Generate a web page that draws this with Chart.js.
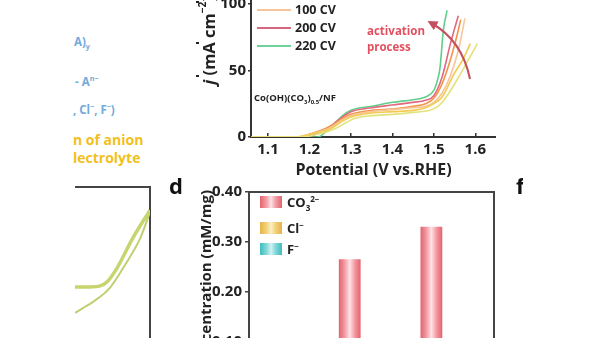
<!DOCTYPE html>
<html>
<head>
<meta charset="utf-8">
<script src="https://cdn.jsdelivr.net/npm/chart.js@4.4.1/dist/chart.umd.min.js"></script>
<style>
  html, body { margin: 0; padding: 0; background: #fff; }
  body { width: 600px; height: 338px; position: relative; overflow: hidden; font-family: "Open Sans", sans-serif; }
  .abs { position: absolute; white-space: nowrap; }
  canvas { position: absolute; }
  .blue { color: #72aadb; font-weight: 700; font-size: 11.5px; }
  .gold { color: #f2c01c; font-weight: 700; font-size: 14px; }
  .leg { font-weight: 700; font-size: 12.5px; color: #222; }
  .legline { position: absolute; height: 2px; width: 34px; }
  .swatch { position: absolute; width: 22px; height: 12px; }
  .vtitle { position: absolute; writing-mode: vertical-rl; transform: rotate(180deg); font-weight: 700; font-size: 15px; color: #222; white-space: nowrap; }
  .tick { position: absolute; width: 3px; height: 2px; background: #222; }
  sub, sup { font-size: 0.62em; }
</style>
</head>
<body>

<!-- scheme text on the left -->
<div class="abs blue" style="left:74px;top:34px;">A)<sub>y</sub></div>
<div class="abs blue" style="left:75px;top:73px;">- A<sup>n−</sup></div>
<div class="abs blue" style="left:73px;top:101px;">, Cl<sup>−</sup>, F<sup>−</sup>)</div>
<div class="abs gold" style="left:73px;top:130px;">n of anion</div>
<div class="abs gold" style="left:73px;top:148px;">lectrolyte</div>
<div class="tick" style="left:196px;top:1px;"></div>
<div class="tick" style="left:196px;top:42px;"></div>
<div class="tick" style="left:196px;top:75px;"></div>

<!-- LSV panel -->
<canvas id="lsv" width="306" height="214" style="left:190px;top:-34px;"></canvas>
<div class="vtitle" style="left:195px;bottom:253px;font-size:16.5px;"><i>j</i> (mA cm<sup>−2</sup>)</div>
<div class="legline" style="left:257px;top:9px;background:#f7c59a;"></div>
<div class="legline" style="left:257px;top:27px;background:#d9667f;"></div>
<div class="legline" style="left:257px;top:45px;background:#6fd29a;"></div>
<div class="abs leg" style="left:295px;top:1px;">100 CV</div>
<div class="abs leg" style="left:295px;top:19px;">200 CV</div>
<div class="abs leg" style="left:295px;top:37px;">220 CV</div>
<div class="abs" style="left:367px;top:23px;color:#e2505f;font-weight:700;font-size:11.5px;line-height:16px;">activation<br>process</div>
<svg class="abs" style="left:0;top:0;" width="600" height="338">
  <defs>
    <marker id="head" viewBox="0 0 10 10" refX="6" refY="5" markerWidth="5" markerHeight="5" orient="auto">
      <path d="M0 0 L10 5 L0 10 z" fill="#c4505f"/>
    </marker>
  </defs>
  <path d="M470 79 Q 462 40 431 23" fill="none" stroke="#c4505f" stroke-width="2" marker-end="url(#head)"/>
</svg>
<div class="abs" style="left:254px;top:91px;font-size:9.5px;font-weight:700;color:#222;">Co(OH)(CO<sub>3</sub>)<sub>0.5</sub>/NF</div>

<!-- CV panel, lower left -->
<div class="abs" style="left:75px;top:180px;width:80px;height:158px;overflow:hidden;">
  <canvas id="cv" width="227" height="200" style="left:-150px;top:0;"></canvas>
</div>

<!-- anion concentration panel -->
<div class="abs" style="left:169px;top:170px;font-size:22px;font-weight:700;color:#111;">d</div>
<div class="abs" style="left:0;top:0;width:523px;height:338px;overflow:hidden;">
  <div class="abs" style="left:516px;top:170px;font-size:22px;font-weight:700;color:#111;">f</div>
</div>
<canvas id="ions" width="296" height="241" style="left:200px;top:180px;"></canvas>
<div class="vtitle" style="left:195px;top:190px;">Concentration (mM/mg)</div>
<div class="swatch" style="left:260px;top:196px;background:linear-gradient(90deg,#e2646f,#f4a0a8 30%,#fde2e5 50%,#f4a0a8 70%,#e2646f);"></div>
<div class="swatch" style="left:260px;top:222px;background:linear-gradient(90deg,#e6b347,#f2d27c 30%,#fbefc4 50%,#f2d27c 70%,#e6b347);"></div>
<div class="swatch" style="left:260px;top:243px;background:linear-gradient(90deg,#3cbcbf,#86d8d9 30%,#d2f2f2 50%,#86d8d9 70%,#3cbcbf);"></div>
<div class="abs leg" style="left:287px;top:193px;font-size:13px;">CO<sub>3</sub><sup>2−</sup></div>
<div class="abs leg" style="left:287px;top:219px;font-size:13px;">Cl<sup>−</sup></div>
<div class="abs leg" style="left:287px;top:240px;font-size:13px;">F<sup>−</sup></div>

<script>
// LSV curves: potential (V vs. RHE) and current density (mA cm-2)
const ylgV = [1.06, 1.18, 1.22, 1.26, 1.29, 1.31, 1.35, 1.40, 1.45, 1.49, 1.51, 1.53, 1.56, 1.58, 1.605];
const ylgJ = [0, 0, 2, 6, 11, 14, 16, 17, 18.5, 20, 23, 30, 45, 56, 70];
const yelV = [1.06, 1.17, 1.20, 1.25, 1.28, 1.30, 1.35, 1.40, 1.45, 1.48, 1.50, 1.52, 1.55, 1.57, 1.588];
const yelJ = [0, 0, 2, 6, 12, 15, 18, 19, 20, 22, 25, 30, 48, 58, 70];
const peachV = [1.06, 1.17, 1.20, 1.25, 1.28, 1.30, 1.35, 1.40, 1.45, 1.48, 1.50, 1.52, 1.54, 1.56, 1.575];
const peachJ = [0, 0, 2, 7, 13, 16, 19, 20.5, 22, 23, 26, 33, 46, 66, 89];
const orangeV = [1.06, 1.17, 1.20, 1.25, 1.28, 1.30, 1.35, 1.40, 1.45, 1.48, 1.50, 1.52, 1.54, 1.555, 1.565];
const orangeJ = [0, 0, 2, 8, 14, 17, 20, 21, 23, 25, 29, 40, 58, 75, 88];
const pinkV = [1.06, 1.19, 1.22, 1.25, 1.28, 1.30, 1.35, 1.40, 1.45, 1.48, 1.50, 1.52, 1.54, 1.559];
const pinkJ = [0, 0, 3, 8, 15, 19, 22, 24, 26, 27.5, 31, 45, 70, 91];
const greenV = [1.06, 1.22, 1.24, 1.26, 1.28, 1.30, 1.35, 1.40, 1.45, 1.48, 1.50, 1.51, 1.515, 1.523, 1.532];
const greenJ = [0, 0, 4, 10, 16, 20, 23, 26, 28, 30, 35, 44, 52, 80, 95];
const potentialTicks = [1.1, 1.2, 1.3, 1.4, 1.5, 1.6];
const currentTicks = [0, 50, 100];

// CV loop fragment
const cvUpV = [1.400, 1.440, 1.467, 1.485, 1.512, 1.554, 1.600];
const cvUpJ = [19.3, 19.3, 19.5, 20.3, 23.2, 29.4, 35.2];
const cvDownV = [1.400, 1.421, 1.448, 1.493, 1.533, 1.574, 1.600];
const cvDownJ = [13.9, 14.9, 16.2, 19.1, 23.8, 29.4, 34.8];

// anion concentration in electrolyte (mM/mg)
const stageLabels = ['0 CV', '100 CV', '220 CV'];
const carbonate = [0.06, 0.265, 0.33];
const chloride = [0.03, 0.03, 0.04];
const fluoride = [0.02, 0.02, 0.03];
const concTicks = [0, 0.1, 0.2, 0.3, 0.4];

const FONT = '"Open Sans", sans-serif';
const AXIS = '#333';
const INK = '#222';

function pts(xs, ys) {
  return xs.map((x, i) => ({ x: x, y: ys[i] }));
}

function curve(label, xs, ys, color) {
  return {
    label: label,
    data: pts(xs, ys),
    borderColor: color,
    borderWidth: 1.6,
    pointRadius: 0,
    fill: false,
    cubicInterpolationMode: 'monotone'
  };
}

const tickFont = { family: FONT, size: 15, weight: 'bold' };

new Chart(document.getElementById('lsv'), {
  type: 'line',
  data: {
    datasets: [
      curve('1 CV', ylgV, ylgJ, '#e3e27c'),
      curve('50 CV', yelV, yelJ, '#f3cb52'),
      curve('100 CV', peachV, peachJ, '#f7c59a'),
      curve('150 CV', orangeV, orangeJ, '#f2954a'),
      curve('200 CV', pinkV, pinkJ, '#e0687f'),
      curve('220 CV', greenV, greenJ, '#5ecf8b')
    ]
  },
  options: {
    responsive: false,
    animation: false,
    layout: { padding: 0 },
    plugins: { legend: { display: false }, tooltip: { enabled: false } },
    scales: {
      x: {
        type: 'linear',
        min: 1.059,
        max: 1.65,
        afterBuildTicks: (a) => { a.ticks = potentialTicks.map(v => ({ value: v })); },
        afterFit: (a) => { a.height = 43; },
        grid: { drawOnChartArea: false, tickLength: -4, color: AXIS, lineWidth: 1.5 },
        border: { color: AXIS, width: 2 },
        ticks: { padding: 8, color: INK, font: tickFont, callback: (v) => v.toFixed(1) },
        title: {
          display: true,
          text: 'Potential (V vs.RHE)',
          color: INK,
          font: { family: FONT, size: 16, weight: 'bold' },
          padding: { top: 0, bottom: 0 }
        }
      },
      y: {
        min: 0,
        max: 120,
        afterBuildTicks: (a) => { a.ticks = currentTicks.map(v => ({ value: v })); },
        afterFit: (a) => { a.width = 61; },
        grid: { drawOnChartArea: false, tickLength: 3, color: AXIS, lineWidth: 1.5 },
        border: { color: AXIS, width: 2 },
        ticks: { padding: 2, color: INK, font: tickFont }
      }
    }
  }
});

// frame-only axes: no ticks, no labels, just the box edge
function edge(position, extra) {
  return Object.assign({
    position: position,
    display: true,
    grid: { display: false },
    ticks: { display: false },
    border: { color: '#444', width: 2 },
    afterFit: (a) => {
      if (a.isHorizontal()) a.height = 0; else a.width = 0;
    }
  }, extra);
}

new Chart(document.getElementById('cv'), {
  type: 'line',
  data: {
    datasets: [
      Object.assign(curve('anodic', cvUpV, cvUpJ, '#c8d56e'), { borderWidth: 3.5 }),
      Object.assign(curve('cathodic', cvDownV, cvDownJ, '#bfd074'), { borderWidth: 2 })
    ]
  },
  options: {
    responsive: false,
    animation: false,
    layout: { padding: { top: 7, right: 2, left: 0, bottom: 0 } },
    plugins: { legend: { display: false }, tooltip: { enabled: false } },
    scales: {
      x: edge('top', { type: 'linear', min: 1.0, max: 1.6 }),
      y: edge('right', { type: 'linear', min: 0, max: 40 })
    }
  }
});

// horizontal shading across each bar: dark edges, pale centre
function barShade(stops) {
  return (ctx) => {
    const chart = ctx.chart;
    const xs = chart.scales.x;
    if (!xs || !xs.width || ctx.type !== 'data') return stops[0];
    const slot = xs.width / stageLabels.length * 0.8 / 3;
    const cx = xs.getPixelForValue(ctx.dataIndex) + (ctx.datasetIndex - 1) * slot;
    const g = chart.ctx.createLinearGradient(cx - slot / 2, 0, cx + slot / 2, 0);
    stops.forEach((c, i) => g.addColorStop(i / (stops.length - 1), c));
    return g;
  };
}

new Chart(document.getElementById('ions'), {
  type: 'bar',
  data: {
    labels: stageLabels,
    datasets: [
      { label: 'CO3 2-', data: carbonate, backgroundColor: barShade(['#e2646f', '#f2959e', '#fde2e5', '#f2959e', '#e2646f']) },
      { label: 'Cl-', data: chloride, backgroundColor: barShade(['#e6b347', '#f2d27c', '#fbefc4', '#f2d27c', '#e6b347']) },
      { label: 'F-', data: fluoride, backgroundColor: barShade(['#3cbcbf', '#86d8d9', '#d2f2f2', '#86d8d9', '#3cbcbf']) }
    ]
  },
  options: {
    responsive: false,
    animation: false,
    layout: { padding: { top: 11, right: 2, left: 0, bottom: 0 } },
    datasets: { bar: { categoryPercentage: 0.8, barPercentage: 1.0 } },
    plugins: { legend: { display: false }, tooltip: { enabled: false } },
    scales: {
      x: {
        afterFit: (a) => { a.height = 30; },
        grid: { display: false },
        border: { color: '#444', width: 2 },
        ticks: { color: INK, font: tickFont }
      },
      y: {
        min: 0,
        max: 0.4,
        afterBuildTicks: (a) => { a.ticks = concTicks.map(v => ({ value: v })); },
        afterFit: (a) => { a.width = 49; },
        grid: { drawOnChartArea: false, tickLength: 4, color: '#444', lineWidth: 1.5 },
        border: { color: '#444', width: 2 },
        ticks: { padding: 3, color: INK, font: tickFont, callback: (v) => v.toFixed(2) }
      },
      x2: edge('top', { type: 'linear', min: 0, max: 1 }),
      y2: edge('right', { type: 'linear', min: 0, max: 1 })
    }
  }
});
</script>
</body>
</html>
